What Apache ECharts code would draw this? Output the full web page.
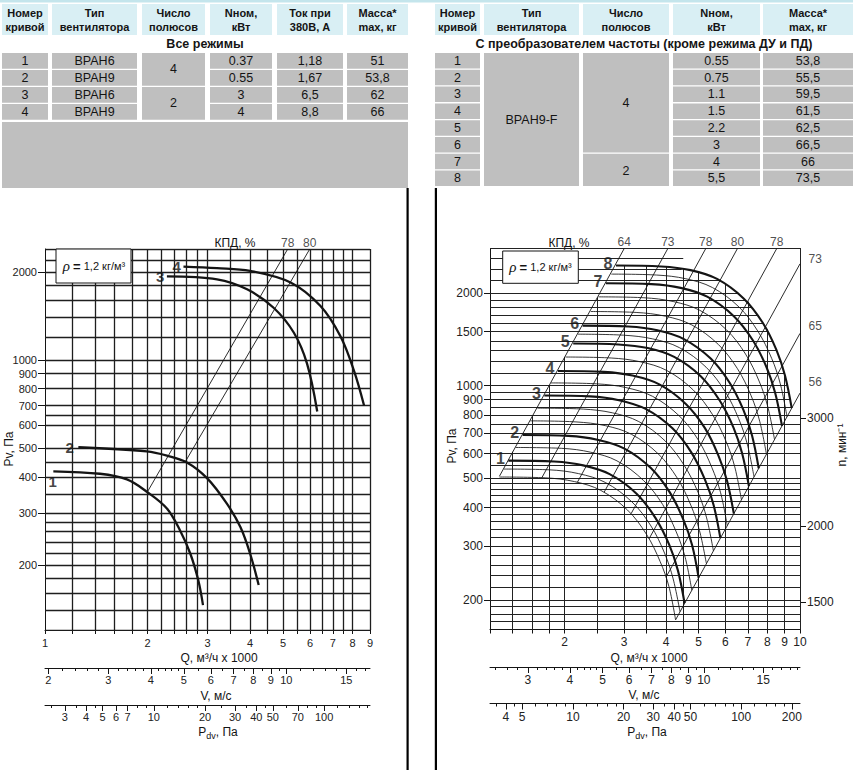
<!DOCTYPE html>
<html>
<head>
<meta charset="UTF-8">
<title>ВРАН6 / ВРАН9 - характеристики</title>
<script src="https://cdn.jsdelivr.net/npm/echarts@6/dist/echarts.min.js"></script>
<style>
  html, body { margin: 0; padding: 0; background: #fff; }
  #main { width: 853px; height: 770px; }
</style>
</head>
<body>
<div id="main"></div>
<script type="text/javascript">
// ---------- tables ----------
var leftHead = ['Номер\nкривой', 'Тип\nвентилятора', 'Число\nполюсов', 'Nном,\nкВт', 'Ток при\n380В, А', 'Масса*\nmax, кг'];
var leftCurveNo = ['1', '2', '3', '4'];
var leftFanType = ['ВРАН6', 'ВРАН9', 'ВРАН6', 'ВРАН9'];
var leftPoles = ['4', '2'];
var leftPower = ['0.37', '0.55', '3', '4'];
var leftCurrent = ['1,18', '1,67', '6,5', '8,8'];
var leftMass = ['51', '53,8', '62', '66'];

var rightHead = ['Номер\nкривой', 'Тип\nвентилятора', 'Число\nполюсов', 'Nном,\nкВт', 'Масса*\nmax, кг'];
var rightCurveNo = ['1', '2', '3', '4', '5', '6', '7', '8'];
var rightFanType = 'ВРАН9-F';
var rightPoles = ['4', '2'];
var rightPower = ['0.55', '0.75', '1.1', '1.5', '2.2', '3', '4', '5,5'];
var rightMass = ['53,8', '55,5', '59,5', '61,5', '62,5', '66,5', '66', '73,5'];

// ---------- left chart (Q x1000 m3/h, Pv Pa) ----------
var leftQ1 = [1.058, 1.45, 1.74, 1.99, 2.28, 2.49, 2.67, 2.82, 2.91];
var leftP1 = [418, 410, 392, 356, 312, 263, 219, 177, 146];
var leftQ2 = [1.253, 1.99, 2.28, 2.61, 2.99, 3.42, 3.75, 4.0, 4.24];
var leftP2 = [505, 489, 473, 448, 396, 324, 269, 219, 171];
var leftQ3 = [2.28, 3.2, 3.92, 4.69, 5.38, 5.88, 6.3];
var leftP3 = [1935, 1891, 1748, 1512, 1242, 974, 669];
var leftQ4 = [2.55, 3.2, 4.0, 5.26, 6.44, 7.37, 8.07, 8.65];
var leftP4 = [2090, 2064, 2020, 1844, 1532, 1208, 924, 700];
var leftEffQ = [[2.0, 5.16], [2.586, 5.99]];
var leftEffP = [[356, 2400], [452, 2400]];
var leftEffNames = ['78', '80'];

var leftQTicks = [1, 2, 3, 4, 5, 6, 7, 8, 9];
var leftPTicks = [200, 300, 400, 500, 600, 700, 800, 900, 1000, 2000];
var leftGridQ = [1.2, 1.4, 1.6, 1.8, 2, 2.2, 2.4, 2.6, 2.8, 3, 3.5, 4, 4.5, 5, 5.5, 6, 6.5, 7, 7.5, 8, 9];
var leftGridP = [120, 140, 160, 180, 200, 220, 240, 260, 280, 300, 350, 400, 450, 500, 600, 650, 700, 800, 900, 1000, 1200, 1400, 1600, 1800, 2000, 2200, 2400];
var leftVMajor = [2, 3, 4, 5, 6, 7, 8, 9, 10, 15];
var leftVMinor = [2.2, 2.4, 2.6, 2.8, 3.2, 3.4, 3.6, 3.8, 4.2, 4.4, 4.6, 4.8, 5.5, 6.5, 7.5, 8.5, 9.5, 11, 12, 13, 14, 16, 17];
var leftPdvMajor = [3, 4, 5, 6, 7, 10, 20, 30, 40, 50, 70, 100];
var leftPdvMinor = [2.5, 3.5, 4.5, 8, 9, 12, 14, 16, 18, 25, 35, 45, 60, 80, 90, 120, 140, 160, 180];

// ---------- right chart ----------
var rightThickQ = [
  [1.36, 1.86, 2.27, 2.72, 3.27, 3.72, 4.09, 4.34, 4.54],
  [1.50, 2.05, 2.50, 3.00, 3.60, 4.10, 4.50, 4.78, 5.00],
  [1.74, 2.38, 2.90, 3.48, 4.18, 4.76, 5.22, 5.54, 5.80],
  [1.91, 2.61, 3.18, 3.82, 4.58, 5.22, 5.72, 6.07, 6.36],
  [2.12, 2.89, 3.53, 4.23, 5.08, 5.78, 6.35, 6.73, 7.05],
  [2.26, 3.09, 3.77, 4.52, 5.43, 6.18, 6.79, 7.20, 7.54],
  [2.65, 3.62, 4.42, 5.30, 6.36, 7.25, 7.96, 8.44, 8.84],
  [2.84, 3.87, 4.73, 5.67, 6.80, 7.75, 8.51, 9.02, 9.45]
];
var rightThickP = [
  [569, 565, 549, 514, 444, 370, 302, 249, 195],
  [690, 685, 666, 624, 539, 449, 366, 302, 236],
  [928, 922, 896, 839, 725, 604, 493, 407, 318],
  [1116, 1108, 1078, 1009, 871, 726, 592, 489, 382],
  [1372, 1362, 1325, 1240, 1071, 892, 728, 601, 470],
  [1569, 1558, 1515, 1418, 1225, 1021, 833, 688, 537],
  [2156, 2142, 2083, 1950, 1684, 1403, 1145, 945, 739],
  [2464, 2447, 2380, 2228, 1924, 1603, 1308, 1080, 844]
];
var rightThinQ = [
  [1.28, 1.75, 2.14, 2.56, 3.07, 3.50, 3.84, 4.08, 4.27],
  [1.32, 1.80, 2.20, 2.64, 3.17, 3.61, 3.96, 4.20, 4.40],
  [1.43, 1.96, 2.39, 2.86, 3.43, 3.91, 4.29, 4.56, 4.77],
  [1.58, 2.16, 2.64, 3.16, 3.79, 4.32, 4.74, 5.03, 5.27],
  [1.66, 2.27, 2.77, 3.32, 3.98, 4.53, 4.98, 5.28, 5.53],
  [1.82, 2.49, 3.04, 3.65, 4.38, 4.99, 5.47, 5.81, 6.08],
  [2.01, 2.75, 3.35, 4.02, 4.82, 5.49, 6.03, 6.40, 6.70],
  [2.19, 2.99, 3.65, 4.38, 5.26, 5.99, 6.57, 6.97, 7.30],
  [2.39, 3.26, 3.98, 4.77, 5.72, 6.52, 7.16, 7.59, 7.95],
  [2.52, 3.44, 4.20, 5.04, 6.05, 6.89, 7.56, 8.02, 8.40],
  [2.75, 3.75, 4.58, 5.49, 6.59, 7.50, 8.24, 8.74, 9.15]
];
var rightThinP = [
  [503, 500, 486, 455, 393, 327, 267, 221, 172],
  [534, 531, 516, 483, 417, 348, 284, 234, 183],
  [628, 624, 606, 568, 490, 409, 333, 275, 215],
  [767, 761, 740, 693, 599, 499, 407, 336, 263],
  [844, 838, 815, 763, 659, 549, 448, 370, 289],
  [1020, 1013, 985, 922, 796, 664, 541, 447, 349],
  [1239, 1230, 1196, 1120, 967, 806, 658, 543, 424],
  [1471, 1460, 1420, 1330, 1148, 957, 781, 645, 504],
  [1744, 1732, 1684, 1577, 1362, 1135, 926, 765, 597],
  [1947, 1934, 1880, 1760, 1520, 1267, 1034, 854, 667],
  [2310, 2294, 2231, 2089, 1804, 1503, 1226, 1013, 791]
];
var rightEffQ = [[1.28, 3.005], [1.71, 4.05], [2.18, 5.25], [2.62, 6.52], [3.15, 8.53], [3.56, 10], [4.0, 10], [4.27, 10]];
var rightEffP = [[506, 2800], [500, 2800], [483, 2800], [449, 2800], [382, 2800], [316, 2496], [237, 1480], [172, 945]];
var rightEffNames = ['64', '73', '78', '80', '78', '73', '65', '56'];

var rightQTicks = [2, 3, 4, 5, 6, 7, 8, 9, 10];
var rightPTicks = [200, 300, 400, 500, 600, 700, 800, 900, 1000, 1500, 2000];
var rightNTicks = [1500, 2000, 3000];
var rightGridQ = [1.4, 1.6, 1.8, 2, 2.5, 3, 3.5, 4, 4.5, 5, 6, 7, 8, 9, 10];
var rightGridQTop = [608, 794, 1004, 1240, 1938, 2462, 2455, 2445, 2405, 2345, 2160, 1880, 1525, 1100, 2800];
var rightGridP = [170, 180, 190, 200, 220, 240, 260, 280, 300, 320, 340, 360, 380, 400, 420, 440, 460, 480, 500,
  550, 600, 650, 700, 750, 800, 850, 900, 950, 1000, 1100, 1200, 1300, 1400, 1500, 1600, 1700, 1800, 1900, 2000,
  2200, 2400, 2600, 2800];
var rightGridPEnd = [10, 10, 10, 10, 10, 10, 10, 10, 10, 10, 10, 10, 10, 10, 10, 10, 10, 10, 10,
  10, 10, 10, 10, 10, 10, 9.44, 9.35, 9.26, 9.16, 8.98, 8.77, 8.55, 8.3, 8.05, 7.78, 7.5, 7.2, 6.9, 6.55,
  5.8, 4.45, 4.5, 10];
var rightVMajor = [3, 4, 5, 6, 7, 8, 9, 10, 15];
var rightVMinor = [2.4, 2.6, 2.8, 3.2, 3.4, 3.6, 3.8, 4.2, 4.4, 4.6, 4.8, 5.5, 6.5, 7.5, 8.5, 9.5, 11, 12, 13, 14, 16, 17, 18, 19];
var rightPdvMajor = [4, 5, 10, 20, 30, 40, 50, 100, 200];
var rightPdvMinor = [3.5, 4.5, 6, 7, 8, 9, 12, 14, 16, 18, 25, 35, 45, 60, 70, 80, 90, 120, 140, 160, 180];

var FONT = '"Liberation Sans", Arial, sans-serif';
var INK = '#141414';
var HEAD = '#d9eff4';
var GRAY = '#bfbfbf';

function zip(q, p) {
  return q.map(function (v, i) { return [v, p[i]]; });
}
function plain(v) { return String(v); }

// ---------- graphic: tables, boxes, titles ----------
var gfx = [];
function box(x, y, w, h, fill, stroke) {
  gfx.push({ type: 'rect', z: 100, shape: { x: x, y: y, width: w, height: h },
    style: { fill: fill, stroke: stroke || null, lineWidth: 1 } });
}
function txt(x, y, s, size, bold, rot, rich) {
  var st = { text: s, fill: INK, fontSize: size, fontWeight: bold ? 'bold' : 'normal', fontFamily: FONT,
    textAlign: 'center', textVerticalAlign: 'middle', align: 'center', verticalAlign: 'middle', lineHeight: size + 3 };
  if (rich) st.rich = rich;
  gfx.push({ type: 'text', z: 101, x: x, y: y, rotation: rot || 0, style: st });
}

box(0, 0, 853, 2.5, '#c4e5ec');
// left table
var lx = [2, 52, 142, 210, 277, 347], lw = [46, 85, 63, 62, 66, 61];
leftHead.forEach(function (h, i) { box(lx[i], 4, lw[i], 31, HEAD); txt(lx[i] + lw[i] / 2, 19.5, h, 11, true); });
txt(205, 44, 'Все режимы', 12.5, true);
leftCurveNo.forEach(function (n, r) {
  var y = 53 + r * 17;
  var vals = [n, leftFanType[r], null, leftPower[r], leftCurrent[r], leftMass[r]];
  vals.forEach(function (v, c) {
    if (v === null) return;
    box(lx[c], y, lw[c], 15.8, GRAY); txt(lx[c] + lw[c] / 2, y + 8, v, 12.5, false);
  });
});
leftPoles.forEach(function (p, k) {
  box(lx[2], 53 + k * 34, lw[2], 32.8, GRAY); txt(lx[2] + lw[2] / 2, 53 + k * 34 + 16.4, p, 12.5, false);
});
box(2, 122, 406, 66, GRAY);

// right table
var rx = [435, 484, 583, 673, 763], rw = [45, 95, 86, 87, 90], rh = 16.8;
rightHead.forEach(function (h, i) { box(rx[i], 4, rw[i], 31, HEAD); txt(rx[i] + rw[i] / 2, 19.5, h, 11, true); });
txt(644, 44, 'С преобразователем частоты (кроме режима ДУ и ПД)', 12.5, true);
rightCurveNo.forEach(function (n, r) {
  var y = 53 + r * rh;
  [[0, n], [3, rightPower[r]], [4, rightMass[r]]].forEach(function (cv) {
    box(rx[cv[0]], y, rw[cv[0]], rh - 1.3, GRAY); txt(rx[cv[0]] + rw[cv[0]] / 2, y + 7.8, cv[1], 12.5, false);
  });
});
box(rx[1], 53, rw[1], rh * 8 - 1.3, GRAY); txt(rx[1] + rw[1] / 2, 53 + rh * 4, rightFanType, 12.5, false);
box(rx[2], 53, rw[2], rh * 6 - 1.3, GRAY); txt(rx[2] + rw[2] / 2, 53 + rh * 3, rightPoles[0], 12.5, false);
box(rx[2], 53 + rh * 6, rw[2], rh * 2 - 1.3, GRAY); txt(rx[2] + rw[2] / 2, 53 + rh * 7, rightPoles[1], 12.5, false);

// divider bars
box(406.5, 188, 2.2, 582, '#000');
box(434.8, 188, 2.2, 582, '#000');

// density boxes
var rhoRich = { r: { fontStyle: 'italic', fontSize: 15, fontFamily: '"Liberation Serif", serif' },
  e: { fontWeight: 'bold', fontSize: 13, fontFamily: FONT }, t: { fontSize: 11, fontFamily: FONT } };
box(56, 249, 75, 34, '#fff', INK);
txt(94, 266, '{r|ρ} {e|=}{t| 1,2 кг/м³}', 11, false, 0, rhoRich);
box(502.7, 251, 75.6, 32.3, '#fff', INK);
txt(540.5, 267, '{r|ρ} {e|=}{t| 1,2 кг/м³}', 11, false, 0, rhoRich);

// axis titles
var pdvRich = { p: { fontSize: 12, fontFamily: FONT, lineHeight: 16 },
  s: { fontSize: 9, fontFamily: FONT, verticalAlign: 'bottom', lineHeight: 10 } };
txt(235, 243, 'КПД, %', 12, false);
txt(219, 658, 'Q, м³/ч x 1000', 12, false);
txt(216, 696, 'V, м/с', 12, false);
txt(218, 732, '{p|P}{s|dv}{p|, Па}', 12, false, 0, pdvRich);
txt(9, 449, 'Pv, Па', 12, false, Math.PI / 2);
txt(569, 242.5, 'КПД, %', 12, false);
txt(649, 658, 'Q, м³/ч x 1000', 12, false);
txt(644, 695, 'V, м/с', 12, false);
txt(647, 732, '{p|P}{s|dv}{p|, Па}', 12, false, 0, pdvRich);
txt(452, 446, 'Pv, Па', 12, false, Math.PI / 2);
txt(841.5, 445, 'n, мин⁻¹', 12, false, Math.PI / 2);

// ---------- axes ----------
function logX(grid, min, max, ticks, tickLen, labels, fontSize, margin, showLine) {
  return {
    type: 'log', logBase: 10, gridIndex: grid, min: min, max: max, position: 'bottom',
    axisLine: { show: showLine !== false, onZero: false, lineStyle: { color: INK, width: 1 } },
    axisTick: { show: !!ticks, customValues: ticks || undefined, length: tickLen, lineStyle: { color: INK, width: 1 } },
    axisLabel: { show: !!labels, customValues: labels || undefined, formatter: plain, margin: margin,
      fontSize: fontSize, color: '#222', fontFamily: FONT },
    splitLine: { show: false }, minorTick: { show: false }, minorSplitLine: { show: false }
  };
}
function logY(grid, min, max, ticks, tickLen, fontSize, margin, pos) {
  return {
    type: 'log', logBase: 10, gridIndex: grid, min: min, max: max, position: pos,
    axisLine: { show: true, onZero: false, lineStyle: { color: INK } },
    axisTick: { customValues: ticks, length: tickLen, lineStyle: { color: INK } },
    axisLabel: { customValues: ticks, formatter: plain, margin: margin, fontSize: fontSize, color: '#222', fontFamily: FONT },
    splitLine: { show: false }
  };
}
function hiddenY(grid) { return { type: 'value', gridIndex: grid, show: false }; }

var grids = [
  { left: 45, top: 249, width: 325, height: 381 },
  { left: 45, top: 667, width: 325, height: 1 },
  { left: 45, top: 667, width: 325, height: 1 },
  { left: 45, top: 704, width: 325, height: 1 },
  { left: 45, top: 704, width: 325, height: 1 },
  { left: 490, top: 248.5, width: 310, height: 381 },
  { left: 490, top: 666, width: 310, height: 1 },
  { left: 490, top: 666, width: 310, height: 1 },
  { left: 490, top: 702.5, width: 310, height: 1 },
  { left: 490, top: 702.5, width: 310, height: 1 }
];

var xAxes = [
  logX(0, 1, 9, leftGridQ.concat([1]), 4, leftQTicks, 11, 7),
  logX(1, 1.956, 17.6, leftVMinor, 3, null, 11, 6),
  logX(2, 1.956, 17.6, leftVMajor, 6, leftVMajor, 11, 6, false),
  logX(3, 2.296, 185.9, leftPdvMinor, 3, null, 11, 6),
  logX(4, 2.296, 185.9, leftPdvMajor, 6, leftPdvMajor, 11, 6, false),
  logX(5, 1.2, 10, rightGridQ.concat([1.2]), 4, rightQTicks, 12, 6),
  logX(6, 2.316, 19.3, rightVMinor, 3, null, 12, 7),
  logX(7, 2.316, 19.3, rightVMajor, 6, rightVMajor, 12, 7, false),
  logX(8, 3.218, 223.5, rightPdvMinor, 3, null, 12, 7),
  logX(9, 3.218, 223.5, rightPdvMajor, 6, rightPdvMajor, 12, 7, false)
];

var yAxes = [
  logY(0, 120, 2400, leftPTicks, 7, 11, 8, 'left'),
  hiddenY(1), hiddenY(2), hiddenY(3), hiddenY(4),
  logY(5, 160, 2800, rightPTicks, 6, 12, 7, 'left'),
  hiddenY(6), hiddenY(7), hiddenY(8), hiddenY(9),
  logY(5, 1355, 5670, rightNTicks, 6, 12, 7, 'right')
];

// ---------- series ----------
var series = [];
function segs(xi, yi, list, color, width, z) {
  series.push({ type: 'lines', coordinateSystem: 'cartesian2d', xAxisIndex: xi, yAxisIndex: yi,
    polyline: false, silent: true, z: z,
    lineStyle: { color: color, width: width, opacity: 1, curveness: 0 },
    data: list.map(function (c) { return { coords: c }; }) });
}
function curve(xi, yi, q, p, width) {
  series.push({ type: 'line', xAxisIndex: xi, yAxisIndex: yi, data: zip(q, p), smooth: 0.35,
    symbol: 'none', silent: true, z: width > 1.5 ? 4 : 3,
    lineStyle: { color: INK, width: width } });
}
function tags(xi, yi, items, base) {
  series.push({ type: 'scatter', xAxisIndex: xi, yAxisIndex: yi, symbolSize: 1, silent: true, z: 6,
    itemStyle: { color: 'rgba(0,0,0,0)' }, label: base, data: items });
}

// left grid + curves
segs(0, 0, leftGridQ.map(function (q) { return [[q, 120], [q, 2400]]; })
  .concat(leftGridP.map(function (p) { return [[1, p], [9, p]]; })), '#1e1e1e', 1.3, 1);
curve(0, 0, leftQ1, leftP1, 2.3);
curve(0, 0, leftQ2, leftP2, 2.3);
curve(0, 0, leftQ3, leftP3, 2.3);
curve(0, 0, leftQ4, leftP4, 2.3);
segs(0, 0, leftEffQ.map(function (q, i) { return [[q[0], leftEffP[i][0]], [q[1], leftEffP[i][1]]]; }), INK, 0.9, 3);
tags(0, 0, leftEffQ.map(function (q, i) {
  return { value: [q[1], leftEffP[i][1]], label: { formatter: leftEffNames[i] } };
}), { show: true, position: 'top', distance: 0, fontSize: 12, color: '#222', fontFamily: FONT });
tags(0, 0, [
  { value: [leftQ1[0], leftP1[0]], label: { formatter: '1', offset: [6, 10] } },
  { value: [leftQ2[0], leftP2[0]], label: { formatter: '2', distance: 4 } },
  { value: [leftQ3[0], leftP3[0]], label: { formatter: '3' } },
  { value: [leftQ4[0], leftP4[0]], label: { formatter: '4' } }
], { show: true, position: 'left', distance: 2, fontSize: 15, fontWeight: 'bold', color: INK, fontFamily: FONT });

// right grid + curves
segs(5, 5, rightGridQ.map(function (q, i) { return [[q, 160], [q, rightGridQTop[i]]]; })
  .concat(rightGridP.map(function (p, i) { return [[1.2, p], [rightGridPEnd[i], p]]; })), '#222', 1, 1);
rightThinQ.forEach(function (q, i) { curve(5, 5, q, rightThinP[i], 0.85); });
rightThickQ.forEach(function (q, i) { curve(5, 5, q, rightThickP[i], 2.1); });
segs(5, 5, rightEffQ.map(function (q, i) { return [[q[0], rightEffP[i][0]], [q[1], rightEffP[i][1]]]; }), INK, 0.9, 3);
var sideOffsets = { 5: [0, -5], 6: [0, -7], 7: [0, -11] };
tags(5, 5, rightEffQ.map(function (q, i) {
  var item = { value: [q[1], rightEffP[i][1]], label: { formatter: rightEffNames[i] } };
  if (sideOffsets[i]) { item.label.position = 'right'; item.label.distance = 8; item.label.offset = sideOffsets[i]; }
  return item;
}), { show: true, position: 'top', distance: 0, fontSize: 12, color: '#222', fontFamily: FONT });
tags(5, 5, rightThickQ.map(function (q, i) {
  return { value: [q[0], rightThickP[i][0]], label: { formatter: String(i + 1) } };
}), { show: true, position: 'left', distance: 3, offset: [0, -2], fontSize: 16, fontWeight: 'bold', color: INK, fontFamily: FONT });

var myChart = echarts.init(document.getElementById('main'), null, { renderer: 'svg' });
myChart.setOption({
  animation: false,
  backgroundColor: '#fff',
  textStyle: { fontFamily: FONT },
  grid: grids,
  xAxis: xAxes,
  yAxis: yAxes,
  graphic: { elements: gfx },
  series: series
});
</script>
</body>
</html>
